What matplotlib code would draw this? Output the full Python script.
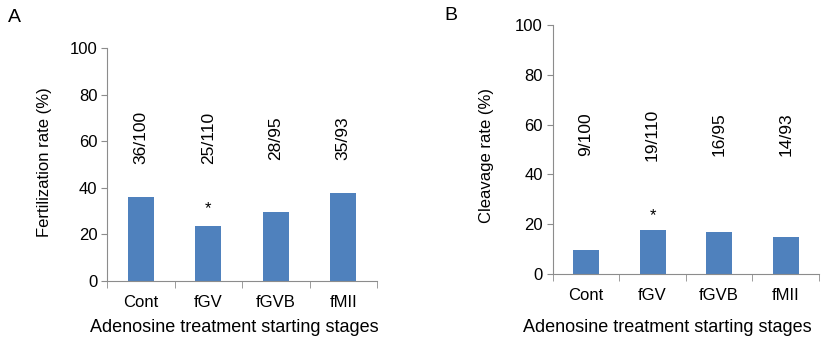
import matplotlib.pyplot as plt
import matplotlib as mpl

mpl.rcParams['font.family'] = ['Liberation Sans', 'DejaVu Sans']

stages = ['Cont', 'fGV', 'fGVB', 'fMII']
fert_rate = [36.0, 23.5, 29.6, 37.6]
fert_counts = ['36/100', '25/110', '28/95', '35/93']
cleav_rate = [9.5, 17.6, 16.8, 15.0]
cleav_counts = ['9/100', '19/110', '16/95', '14/93']
star_idx = 1

bar_color = '#4F81BD'
axis_color = '#8C8C8C'
W, H = 827, 344

fig = plt.figure(figsize=(8.27, 3.44), dpi=100)


def draw_panel(ax, values, counts, count_y, star_y):
    x = range(len(stages))
    ax.bar(x, values, width=0.39, color=bar_color)
    ax.set_xlim(-0.5, len(stages) - 0.5)
    ax.set_ylim(0, 100)
    ax.set_yticks(range(0, 101, 20))
    ax.set_xticks(list(x))
    ax.set_xticklabels(stages, fontsize=12)
    ax.set_xticks([i - 0.5 for i in range(len(stages) + 1)], minor=True)
    ax.tick_params(axis='x', which='major', length=0, pad=10)
    ax.tick_params(axis='x', which='minor', length=5, color=axis_color, direction='out')
    ax.tick_params(axis='y', length=4, color=axis_color, labelsize=12, pad=3)
    for s in ['top', 'right']:
        ax.spines[s].set_visible(False)
    for s in ['left', 'bottom']:
        ax.spines[s].set_color(axis_color)
    for i, c in enumerate(counts):
        ax.text(i, count_y, c, rotation=90, ha='center', va='center', fontsize=12.5)
    ax.text(star_idx, star_y, '*', ha='center', va='center', fontsize=12)


ax1 = fig.add_axes([107 / W, 1 - 281 / H, 270 / W, 233 / H])
draw_panel(ax1, fert_rate, fert_counts, 61.5, 31)
ax2 = fig.add_axes([552.7 / W, 1 - 274 / H, 266.3 / W, 249 / H])
draw_panel(ax2, cleav_rate, cleav_counts, 56, 23.5)

# axis titles
fig.text(45 / W, 1 - 162 / H, 'Fertilization rate (%)', rotation=90,
         ha='center', va='center', fontsize=12)
fig.text(487 / W, 1 - 156 / H, 'Cleavage rate (%)', rotation=90,
         ha='center', va='center', fontsize=12)
fig.text(234 / W, 1 - 327 / H, 'Adenosine treatment starting stages',
         ha='center', va='center', fontsize=13)
fig.text(667 / W, 1 - 327 / H, 'Adenosine treatment starting stages',
         ha='center', va='center', fontsize=13)

fig.text(14 / W, 1 - 17 / H, 'A', fontsize=14, ha='center', va='center')
fig.text(451 / W, 1 - 15 / H, 'B', fontsize=14, ha='center', va='center')

fig.savefig('out.png', dpi=100)
